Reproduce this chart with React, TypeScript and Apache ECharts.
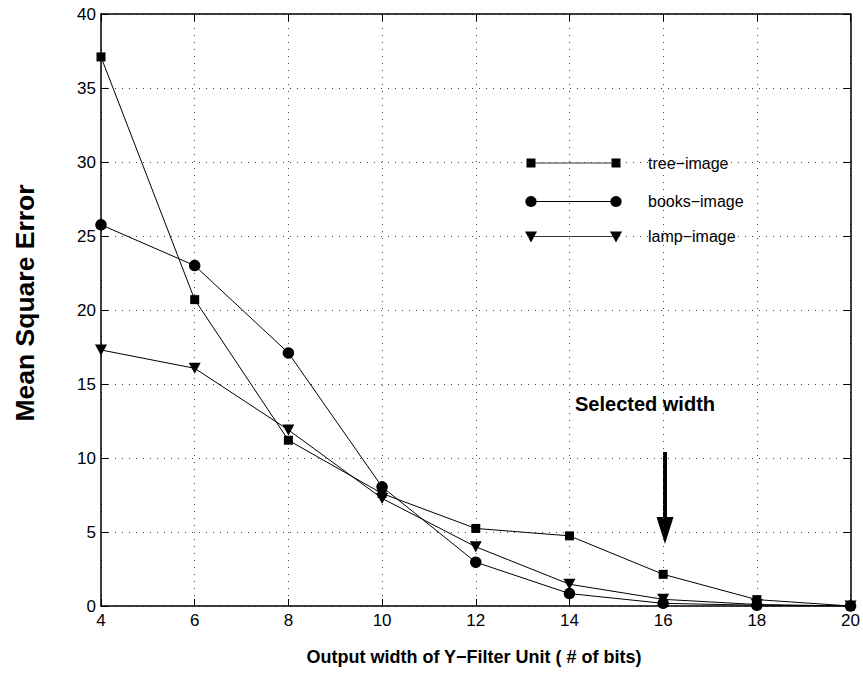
import React, { useEffect, useRef } from "react";
import * as echarts from "echarts";

const xValues = [4, 6, 8, 10, 12, 14, 16, 18, 20];
const treeImage = [37.1, 20.7, 11.2, 7.6, 5.24, 4.74, 2.14, 0.43, 0.0];
const booksImage = [25.76, 23.0, 17.1, 8.05, 2.96, 0.84, 0.18, 0.05, 0.0];
const lampImage = [17.3, 16.06, 11.9, 7.27, 4.0, 1.47, 0.45, 0.1, 0.0];
const seriesNames = ["tree−image", "books−image", "lamp−image"];
const xTitle = "Output width of Y−Filter Unit ( # of bits)";
const yTitle = "Mean Square Error";
const annotation = "Selected width";

const FONT = "'Liberation Sans', Arial, Helvetica, sans-serif";

export default function App() {
  const ref = useRef<HTMLDivElement>(null);
  useEffect(() => {
    if (!ref.current) return;
    const chart = echarts.init(ref.current, undefined, { renderer: "svg" });
    const pairs = (ys: number[]) => xValues.map((x, i) => [x, ys[i]]);
    const baseSeries = {
      type: "line",
      lineStyle: { color: "#000", width: 1 },
      itemStyle: { color: "#000" },
      showSymbol: true,
      z: 3,
    };
    const legendRows = [
      { y: 163, sym: "square" },
      { y: 201.5, sym: "circle" },
      { y: 236.5, sym: "triangle" },
    ];
    const legendX1 = 531;
    const legendX2 = 616;
    const marker = (sym: string, cx: number, cy: number) => {
      if (sym === "square")
        return { type: "rect", shape: { x: cx - 4.5, y: cy - 4.5, width: 9, height: 9 }, style: { fill: "#000" } };
      if (sym === "circle")
        return { type: "circle", shape: { cx, cy, r: 5.6 }, style: { fill: "#000" } };
      return {
        type: "polygon",
        shape: { points: [[cx - 6, cy - 5], [cx + 6, cy - 5], [cx, cy + 6]] },
        style: { fill: "#000" },
      };
    };
    const legendGraphics: any[] = [];
    legendRows.forEach((r, i) => {
      legendGraphics.push({
        type: "line",
        shape: { x1: legendX1, y1: r.y, x2: legendX2, y2: r.y },
        style: { stroke: i === 1 ? "#000" : "#333", lineWidth: 1 },
      });
      legendGraphics.push(marker(r.sym, legendX1, r.y));
      legendGraphics.push(marker(r.sym, legendX2, r.y));
      legendGraphics.push({
        type: "text",
        x: 648,
        y: r.y,
        style: {
          text: seriesNames[i],
          font: `16px ${FONT}`,
          fill: "#000",
          textAlign: "left",
          textVerticalAlign: "middle",
        },
      });
    });

    const splitLine = { show: true, lineStyle: { color: "#444", type: [1, 6], width: 1 } };
    const tickLabel = { color: "#000", fontSize: 17, fontFamily: FONT };

    chart.setOption({
      animation: false,
      backgroundColor: "#fff",
      grid: { left: 101, right: 11, top: 14, bottom: 67, containLabel: false },
      xAxis: [
        {
          type: "value",
          min: 4,
          max: 20,
          interval: 2,
          position: "bottom",
          axisLine: { show: true, lineStyle: { color: "#000", width: 1.5 } },
          axisTick: { show: true, inside: true, length: 7, lineStyle: { color: "#000" } },
          axisLabel: { ...tickLabel, margin: 6, showMaxLabel: true, hideOverlap: false },
          splitLine,
        },
        {
          type: "value",
          min: 4,
          max: 20,
          interval: 2,
          position: "top",
          axisLine: { show: true, onZero: false, lineStyle: { color: "#000", width: 1.5 } },
          axisTick: { show: true, inside: true, length: 7, lineStyle: { color: "#000" } },
          axisLabel: { show: false },
          splitLine: { show: false },
        },
      ],
      yAxis: [
        {
          type: "value",
          min: 0,
          max: 40,
          interval: 5,
          position: "left",
          axisLine: { show: true, lineStyle: { color: "#000", width: 1.5 } },
          axisTick: { show: true, inside: true, length: 7, lineStyle: { color: "#000" } },
          axisLabel: { ...tickLabel, margin: 5 },
          splitLine,
        },
        {
          type: "value",
          min: 0,
          max: 40,
          interval: 5,
          position: "right",
          axisLine: { show: true, onZero: false, lineStyle: { color: "#000", width: 1.5 } },
          axisTick: { show: true, inside: true, length: 7, lineStyle: { color: "#000" } },
          axisLabel: { show: false },
          splitLine: { show: false },
        },
      ],
      series: [
        { ...baseSeries, name: seriesNames[0], data: pairs(treeImage), symbol: "rect", symbolSize: 9 },
        { ...baseSeries, name: seriesNames[1], data: pairs(booksImage), symbol: "circle", symbolSize: 11.5 },
        {
          ...baseSeries,
          name: seriesNames[2],
          data: pairs(lampImage),
          symbol: "triangle",
          symbolSize: [12, 11],
          symbolRotate: 180,
        },
      ],
      graphic: [
        ...legendGraphics,
        {
          type: "text",
          x: 645,
          y: 404,
          style: {
            text: annotation,
            font: `bold 20px ${FONT}`,
            fill: "#000",
            textAlign: "center",
            textVerticalAlign: "middle",
          },
        },
        {
          type: "rect",
          shape: { x: 663, y: 452, width: 4, height: 68 },
          style: { fill: "#000" },
        },
        {
          type: "polygon",
          shape: { points: [[656.5, 517], [673.5, 517], [665, 544]] },
          style: { fill: "#000" },
        },
        {
          type: "text",
          x: 474,
          y: 657,
          style: {
            text: xTitle,
            font: `bold 18px ${FONT}`,
            fill: "#000",
            textAlign: "center",
            textVerticalAlign: "middle",
          },
        },
        {
          type: "text",
          x: 25,
          y: 303,
          rotation: Math.PI / 2,
          style: {
            text: yTitle,
            font: `bold 26.5px ${FONT}`,
            fill: "#000",
            textAlign: "center",
            textVerticalAlign: "middle",
          },
        },
      ],
    });
    return () => chart.dispose();
  }, []);
  return (
    <div
      ref={ref}
      style={{ position: "fixed", left: 0, top: 0, width: 863, height: 673, overflow: "visible" }}
    />
  );
}
